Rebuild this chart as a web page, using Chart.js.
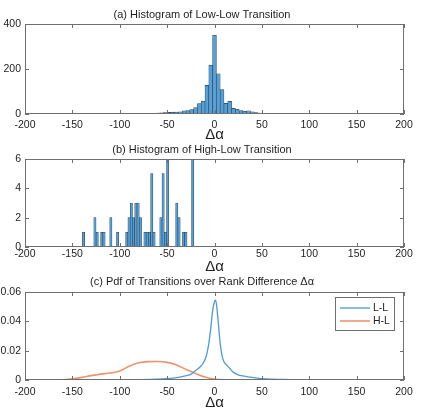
<!DOCTYPE html>
<html>
<head>
<meta charset="utf-8">
<script src="https://cdn.jsdelivr.net/npm/chart.js@4.4.0/dist/chart.umd.min.js"></script>
<style>
  body { margin: 0; background: #fff; width: 423px; height: 413px; overflow: hidden; }
  canvas { position: absolute; left: 0; }
</style>
</head>
<body>
<canvas id="histLL" width="423" height="142" style="top:0px"></canvas>
<canvas id="histHL" width="423" height="139" style="top:135px"></canvas>
<canvas id="pdfChart" width="423" height="142" style="top:268px"></canvas>
<script>
// (a) Low-Low transitions: bin centres and counts
const binsLL = [-96, -92, -88, -84, -80, -76, -72, -68, -64, -60, -56, -52, -48, -44, -40, -36, -32, -28, -24, -20,
                -16, -12, -8, -4, 0, 4, 8, 12, 16, 20, 24, 28, 32, 36, 40, 44, 48, 52, 56, 60,
                64, 68, 72, 76, 80, 84, 88, 92, 96];
const countsLL = [1, 1, 2, 1, 2, 1, 2, 3, 3, 4, 5, 6, 7, 8, 9, 10, 14, 15, 20, 28,
                  46, 57, 127, 217, 350, 179, 108, 47, 56, 25, 21, 15, 12, 14, 10, 6, 4, 3, 3, 2,
                  2, 2, 1, 1, 1, 1, 0, 0, 0];

// (b) High-Low transitions: bin centres and counts (non-empty bins only)
const binsHL = [-138.2, -126.2, -123.8, -119, -116.6, -109.4, -102.2, -92.6, -90.2, -87.8,
                -85.4, -83, -80.6, -78.2, -73.4, -71, -68.6, -66.2, -63.8, -56.6,
                -54.2, -51.8, -49.4, -39.8, -37.4, -32.6, -30.2, -23];
const countsHL = [1, 2, 1, 1, 1, 2, 1, 1, 2, 3,
                  2, 3, 3, 2, 1, 1, 1, 5, 1, 2,
                  5, 1, 6, 3, 2, 1, 1, 6];

// (c) Pdf curves
const pdfX_LL = [-200, -150, -100, -80, -60, -50, -40, -30, -25, -20, -15, -12, -10, -8, -6, -4, -2, 0, 1, 2,
                 4, 6, 8, 10, 13, 16, 20, 25, 30, 35, 40, 50, 60, 70, 80, 100, 150, 200];
const pdfY_LL = [0, 0, 0.0001, 0.0002, 0.0005, 0.0009, 0.0016, 0.003, 0.0038, 0.0065, 0.009, 0.0115, 0.014, 0.018, 0.025, 0.035, 0.047, 0.0535, 0.0545, 0.052,
                 0.039, 0.025, 0.0165, 0.0125, 0.010, 0.008, 0.0052, 0.0035, 0.0028, 0.0022, 0.0018, 0.001, 0.0006, 0.0004, 0.0002, 0.0001, 0, 0];
const pdfX_HL = [-200, -170, -160, -150, -140, -130, -120, -110, -100, -90, -80, -70, -60, -50, -40, -30, -20, -10, 0, 10, 20, 200];
const pdfY_HL = [0, 0, 0.0002, 0.0008, 0.0018, 0.003, 0.004, 0.0048, 0.0062, 0.0094, 0.0117, 0.0125, 0.0126, 0.012, 0.0102, 0.0072, 0.0045, 0.002, 0.0006, 0.0001, 0, 0];

const xTicksMin = -200;
const xTicksMax = 200;
const seriesNames = ['L-L', 'H-L'];

const FONT = "'Liberation Sans', Arial, sans-serif";
const TEXT = '#1e1e1e';
const AXIS = '#6f6f6f';

// MATLAB style box with inward tick marks on all four sides
const boxAxes = {
  id: 'boxAxes',
  afterDatasetsDraw(chart) {
    const { ctx, chartArea: a, scales: { x, y } } = chart;
    ctx.save();
    ctx.strokeStyle = AXIS;
    ctx.lineWidth = 1;
    ctx.beginPath();
    x.ticks.forEach(t => {
      const px = Math.round(x.getPixelForValue(t.value)) + 0.5;
      ctx.moveTo(px, a.bottom); ctx.lineTo(px, a.bottom - 4);
      ctx.moveTo(px, a.top); ctx.lineTo(px, a.top + 4);
    });
    y.ticks.forEach(t => {
      const py = Math.round(y.getPixelForValue(t.value)) + 0.5;
      ctx.moveTo(a.left, py); ctx.lineTo(a.left + 4, py);
      ctx.moveTo(a.right, py); ctx.lineTo(a.right - 4, py);
    });
    ctx.stroke();
    ctx.strokeRect(a.left + 0.5, a.top + 0.5, a.width - 1, a.height - 1);
    ctx.restore();
  }
};

// legend box drawn inside the plot area, top right
const insideLegend = {
  id: 'insideLegend',
  afterDraw(chart) {
    const { ctx, chartArea: a } = chart;
    const w = 60, h = 34;
    const bx = a.right - 9 - w, by = a.top + 5;
    ctx.save();
    ctx.fillStyle = '#fff';
    ctx.fillRect(bx, by, w, h);
    ctx.strokeStyle = AXIS;
    ctx.lineWidth = 1;
    ctx.strokeRect(bx + 0.5, by + 0.5, w - 1, h - 1);
    ctx.font = '10.5px ' + FONT;
    ctx.textBaseline = 'middle';
    chart.data.datasets.forEach((ds, i) => {
      const ly = by + 11 + i * 13;
      ctx.strokeStyle = ds.borderColor;
      ctx.lineWidth = ds.borderWidth;
      ctx.beginPath();
      ctx.moveTo(bx + 5, ly); ctx.lineTo(bx + 35, ly);
      ctx.stroke();
      ctx.fillStyle = TEXT;
      ctx.fillText(ds.label, bx + 38, ly);
    });
    ctx.restore();
  }
};

function xScale(axisHeight, labelPad) {
  return {
    type: 'linear',
    min: xTicksMin,
    max: xTicksMax,
    offset: false,
    grid: { display: false, drawTicks: false },
    border: { display: false },
    ticks: { stepSize: 50, padding: labelPad, maxRotation: 0, autoSkip: false, color: TEXT, font: { family: FONT, size: 10.5 } },
    title: { display: true, text: 'Δα', color: TEXT, padding: 0, font: { family: FONT, size: 15, lineHeight: 1 } },
    afterFit(scale) { scale.height = axisHeight; }
  };
}

function yScale(max, step) {
  return {
    min: 0,
    max: max,
    grid: { display: false, drawTicks: false },
    border: { display: false },
    ticks: { stepSize: step, padding: 4, color: TEXT, font: { family: FONT, size: 10.5 } },
    afterFit(scale) { scale.width = 25; }
  };
}

function titleOpts(text, padTop, padBottom) {
  return {
    display: true,
    text: text,
    color: TEXT,
    font: { family: FONT, size: 11, weight: 'normal', lineHeight: 1.2 },
    padding: { top: padTop, bottom: padBottom }
  };
}

function histChart(id, bins, counts, title, padTop, padBottom, axisHeight, labelPad, yMax, yStep) {
  return new Chart(document.getElementById(id), {
    type: 'bar',
    data: {
      datasets: [{
        data: bins.map((b, i) => ({ x: b, y: counts[i] })),
        backgroundColor: '#55a0d6',
        borderColor: '#2e3f52',
        borderWidth: 0.6,
        borderSkipped: false,
        barPercentage: 1,
        categoryPercentage: 1
      }]
    },
    options: {
      responsive: false,
      animation: false,
      layout: { padding: { left: 0, right: 19, top: 0, bottom: 0 } },
      plugins: { legend: { display: false }, tooltip: { enabled: false }, title: titleOpts(title, padTop, padBottom) },
      scales: { x: xScale(axisHeight, labelPad), y: yScale(yMax, yStep) }
    },
    plugins: [boxAxes]
  });
}

histChart('histLL', binsLL, countsLL, '(a) Histogram of Low-Low Transition', 8.4, 2.4, 28, 5, 400, 200);
histChart('histHL', binsHL, countsHL, '(b) Histogram of High-Low Transition', 7.9, 2.9, 27, 1, 6, 2);

new Chart(document.getElementById('pdfChart'), {
  type: 'line',
  data: {
    datasets: [{
      label: seriesNames[0],
      data: pdfX_LL.map((v, i) => ({ x: v, y: pdfY_LL[i] })),
      borderColor: '#4d9bd6',
      borderWidth: 1.3,
      pointRadius: 0,
      fill: false,
      cubicInterpolationMode: 'monotone'
    }, {
      label: seriesNames[1],
      data: pdfX_HL.map((v, i) => ({ x: v, y: pdfY_HL[i] })),
      borderColor: '#ec9470',
      borderWidth: 1.6,
      pointRadius: 0,
      fill: false,
      cubicInterpolationMode: 'monotone'
    }]
  },
  options: {
    responsive: false,
    animation: false,
    layout: { padding: { left: 0, right: 19, top: 0, bottom: 0 } },
    plugins: { legend: { display: false }, tooltip: { enabled: false }, title: titleOpts('(c) Pdf of Transitions over Rank Difference Δα', 6.9, 3.9) },
    scales: { x: xScale(30, 6), y: yScale(0.06, 0.02) }
  },
  plugins: [boxAxes, insideLegend]
});
</script>
</body>
</html>
